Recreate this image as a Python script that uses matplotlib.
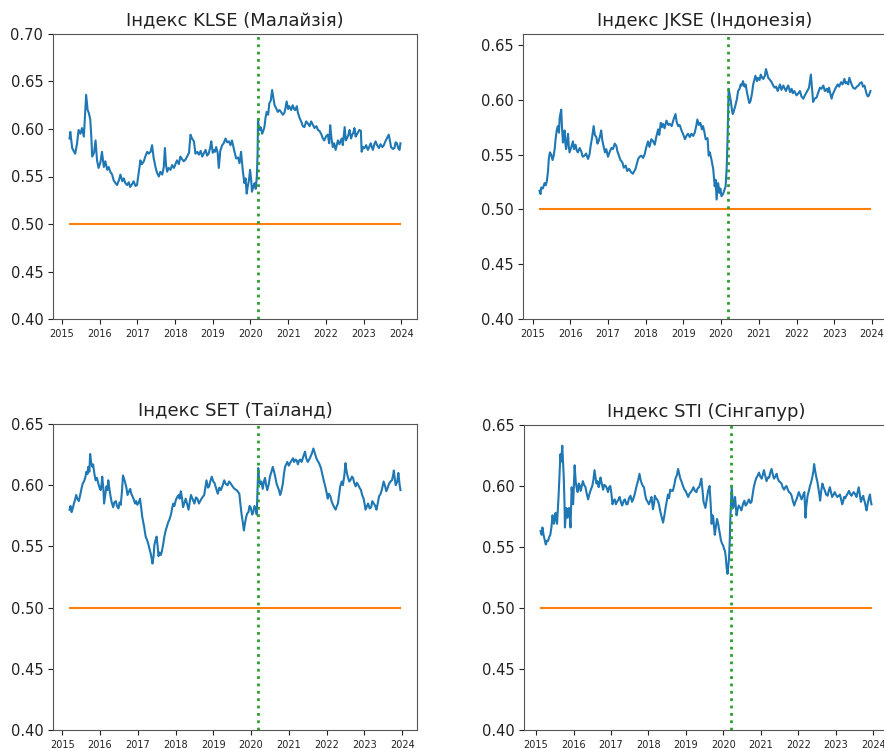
import matplotlib
matplotlib.use("Agg")
import matplotlib.pyplot as plt
from matplotlib.ticker import FormatStrFormatter, MultipleLocator

# ---- Hurst exponent estimates (rolling window), decimal-year time axis ----
klse_years = [
    2015.20, 2015.22, 2015.27, 2015.32, 2015.35, 2015.40, 2015.44, 2015.49, 2015.53, 2015.58,
    2015.64, 2015.68, 2015.71, 2015.75, 2015.78, 2015.80, 2015.85, 2015.89, 2015.93, 2015.97,
    2016.02, 2016.06, 2016.11, 2016.15, 2016.20, 2016.24, 2016.28, 2016.33, 2016.37, 2016.42,
    2016.46, 2016.51, 2016.55, 2016.60, 2016.64, 2016.68, 2016.73, 2016.77, 2016.81, 2016.86,
    2016.90, 2016.95, 2016.99, 2017.04, 2017.08, 2017.12, 2017.17, 2017.21, 2017.26, 2017.30,
    2017.35, 2017.39, 2017.43, 2017.48, 2017.52, 2017.57, 2017.61, 2017.66, 2017.70, 2017.73,
    2017.76, 2017.79, 2017.83, 2017.88, 2017.92, 2017.97, 2018.01, 2018.05, 2018.10, 2018.14,
    2018.19, 2018.23, 2018.28, 2018.32, 2018.37, 2018.41, 2018.45, 2018.50, 2018.54, 2018.59,
    2018.63, 2018.68, 2018.72, 2018.77, 2018.81, 2018.85, 2018.89, 2018.93, 2018.96, 2019.00,
    2019.03, 2019.06, 2019.09, 2019.13, 2019.16, 2019.20, 2019.25, 2019.29, 2019.34, 2019.38,
    2019.43, 2019.47, 2019.51, 2019.56, 2019.62, 2019.67, 2019.71, 2019.75, 2019.80, 2019.84,
    2019.87, 2019.90, 2019.93, 2019.96, 2019.99, 2020.02, 2020.04, 2020.08, 2020.11, 2020.14,
    2020.17, 2020.19, 2020.20, 2020.22, 2020.24, 2020.27, 2020.31, 2020.34, 2020.37, 2020.40,
    2020.43, 2020.47, 2020.50, 2020.54, 2020.575, 2020.61, 2020.64, 2020.68, 2020.725, 2020.77,
    2020.81, 2020.86, 2020.90, 2020.93, 2020.96, 2021.00, 2021.03, 2021.08, 2021.12, 2021.16,
    2021.19, 2021.23, 2021.26, 2021.30, 2021.345, 2021.39, 2021.43, 2021.48, 2021.52, 2021.57,
    2021.61, 2021.66, 2021.70, 2021.75, 2021.79, 2021.83, 2021.875, 2021.92, 2021.96, 2022.00,
    2022.05, 2022.09, 2022.115, 2022.15, 2022.185, 2022.22, 2022.26, 2022.29, 2022.32, 2022.36,
    2022.39, 2022.42, 2022.45, 2022.50, 2022.53, 2022.56, 2022.60, 2022.63, 2022.67, 2022.70,
    2022.73, 2022.76, 2022.79, 2022.82, 2022.86, 2022.89, 2022.93, 2022.95, 2022.99, 2023.03,
    2023.07, 2023.115, 2023.15, 2023.19, 2023.22, 2023.25, 2023.28, 2023.32, 2023.36, 2023.41,
    2023.45, 2023.50, 2023.54, 2023.58, 2023.62, 2023.67, 2023.70, 2023.73, 2023.78, 2023.82,
    2023.85, 2023.885, 2023.92, 2023.955, 2023.98,
]
klse_hurst = [
    0.590, 0.597, 0.580, 0.576, 0.574, 0.585, 0.599, 0.595, 0.601, 0.592,
    0.636, 0.620, 0.617, 0.610, 0.590, 0.571, 0.575, 0.588, 0.567, 0.559,
    0.565, 0.576, 0.560, 0.566, 0.557, 0.560, 0.555, 0.552, 0.546, 0.543,
    0.541, 0.546, 0.552, 0.545, 0.548, 0.543, 0.541, 0.544, 0.539, 0.542,
    0.545, 0.540, 0.541, 0.555, 0.567, 0.563, 0.566, 0.571, 0.576, 0.574,
    0.576, 0.583, 0.570, 0.560, 0.554, 0.550, 0.555, 0.552, 0.560, 0.580,
    0.562, 0.555, 0.559, 0.557, 0.562, 0.559, 0.563, 0.567, 0.563, 0.571,
    0.568, 0.566, 0.568, 0.571, 0.575, 0.594, 0.590, 0.587, 0.574, 0.576,
    0.573, 0.577, 0.571, 0.575, 0.578, 0.572, 0.574, 0.580, 0.587, 0.575,
    0.578, 0.576, 0.581, 0.575, 0.559, 0.577, 0.583, 0.585, 0.590, 0.586,
    0.587, 0.583, 0.588, 0.579, 0.569, 0.570, 0.564, 0.576, 0.555, 0.543,
    0.548, 0.532, 0.540, 0.546, 0.557, 0.546, 0.534, 0.540, 0.543, 0.537,
    0.550, 0.575, 0.610, 0.603, 0.599, 0.602, 0.595, 0.598, 0.602, 0.612,
    0.618, 0.615, 0.627, 0.630, 0.641, 0.632, 0.625, 0.622, 0.618, 0.620,
    0.618, 0.615, 0.617, 0.622, 0.629, 0.621, 0.624, 0.620, 0.625, 0.621,
    0.620, 0.624, 0.617, 0.612, 0.608, 0.603, 0.602, 0.608, 0.606, 0.603,
    0.608, 0.604, 0.601, 0.603, 0.599, 0.598, 0.595, 0.590, 0.588, 0.592,
    0.594, 0.585, 0.604, 0.590, 0.581, 0.585, 0.578, 0.583, 0.588, 0.584,
    0.587, 0.590, 0.583, 0.602, 0.588, 0.590, 0.594, 0.599, 0.590, 0.594,
    0.596, 0.601, 0.592, 0.594, 0.597, 0.599, 0.598, 0.576, 0.581, 0.580,
    0.583, 0.578, 0.581, 0.585, 0.581, 0.578, 0.583, 0.587, 0.583, 0.580,
    0.584, 0.581, 0.583, 0.587, 0.590, 0.594, 0.588, 0.581, 0.579, 0.580,
    0.586, 0.585, 0.580, 0.578, 0.585,
]

jkse_years = [
    2015.185, 2015.21, 2015.23, 2015.27, 2015.32, 2015.35, 2015.38, 2015.41, 2015.43, 2015.46,
    2015.495, 2015.53, 2015.56, 2015.59, 2015.61, 2015.64, 2015.67, 2015.70, 2015.72, 2015.76,
    2015.78, 2015.805, 2015.83, 2015.85, 2015.87, 2015.89, 2015.92, 2015.94, 2015.96, 2015.98,
    2016.03, 2016.07, 2016.10, 2016.14, 2016.17, 2016.20, 2016.25, 2016.29, 2016.33, 2016.38,
    2016.42, 2016.47, 2016.51, 2016.54, 2016.58, 2016.62, 2016.65, 2016.69, 2016.72, 2016.75,
    2016.79, 2016.82, 2016.85, 2016.88, 2016.92, 2016.955, 2017.00, 2017.04, 2017.09, 2017.13,
    2017.18, 2017.22, 2017.25, 2017.29, 2017.33, 2017.38, 2017.42, 2017.47, 2017.51, 2017.56,
    2017.61, 2017.66, 2017.70, 2017.73, 2017.77, 2017.80, 2017.84, 2017.885, 2017.93, 2017.97,
    2018.01, 2018.06, 2018.10, 2018.15, 2018.20, 2018.24, 2018.28, 2018.33, 2018.36, 2018.40,
    2018.43, 2018.46, 2018.50, 2018.55, 2018.60, 2018.64, 2018.69, 2018.73, 2018.79, 2018.82,
    2018.86, 2018.90, 2018.95, 2019.00, 2019.04, 2019.08, 2019.12, 2019.17, 2019.21, 2019.26,
    2019.30, 2019.34, 2019.37, 2019.41, 2019.45, 2019.49, 2019.52, 2019.56, 2019.59, 2019.64,
    2019.67, 2019.70, 2019.74, 2019.79, 2019.83, 2019.855, 2019.88, 2019.90, 2019.92, 2019.96,
    2019.98, 2020.01, 2020.05, 2020.08, 2020.12, 2020.15, 2020.17, 2020.20, 2020.23, 2020.26,
    2020.29, 2020.31, 2020.34, 2020.38, 2020.42, 2020.45, 2020.49, 2020.52, 2020.55, 2020.58,
    2020.62, 2020.65, 2020.69, 2020.72, 2020.75, 2020.78, 2020.82, 2020.85, 2020.88, 2020.91,
    2020.95, 2020.98, 2021.02, 2021.05, 2021.09, 2021.12, 2021.16, 2021.19, 2021.25, 2021.30,
    2021.34, 2021.38, 2021.42, 2021.46, 2021.50, 2021.53, 2021.56, 2021.60, 2021.65, 2021.69,
    2021.72, 2021.75, 2021.78, 2021.83, 2021.87, 2021.90, 2021.94, 2021.97, 2022.00, 2022.05,
    2022.09, 2022.13, 2022.18, 2022.22, 2022.27, 2022.30, 2022.33, 2022.38, 2022.41, 2022.44,
    2022.48, 2022.53, 2022.57, 2022.62, 2022.66, 2022.71, 2022.75, 2022.80, 2022.83, 2022.86,
    2022.90, 2022.93, 2022.96, 2023.00, 2023.04, 2023.09, 2023.13, 2023.18, 2023.22, 2023.27,
    2023.30, 2023.33, 2023.37, 2023.40, 2023.43, 2023.46, 2023.50, 2023.55, 2023.60, 2023.64,
    2023.68, 2023.73, 2023.76, 2023.80, 2023.83, 2023.86, 2023.89, 2023.92, 2023.96,
]
jkse_hurst = [
    0.517, 0.514, 0.520, 0.519, 0.524, 0.522, 0.526, 0.535, 0.546, 0.552,
    0.550, 0.545, 0.549, 0.556, 0.564, 0.572, 0.576, 0.570, 0.584, 0.591,
    0.575, 0.561, 0.568, 0.572, 0.560, 0.555, 0.563, 0.569, 0.558, 0.552,
    0.557, 0.562, 0.555, 0.559, 0.554, 0.552, 0.556, 0.553, 0.548, 0.549,
    0.551, 0.546, 0.550, 0.558, 0.566, 0.576, 0.568, 0.566, 0.560, 0.562,
    0.567, 0.572, 0.563, 0.558, 0.552, 0.555, 0.548, 0.552, 0.556, 0.555,
    0.560, 0.558, 0.553, 0.549, 0.545, 0.543, 0.538, 0.540, 0.535, 0.537,
    0.534, 0.5325, 0.535, 0.537, 0.542, 0.546, 0.548, 0.549, 0.547, 0.550,
    0.556, 0.562, 0.557, 0.564, 0.562, 0.559, 0.566, 0.573, 0.568, 0.579,
    0.575, 0.578, 0.574, 0.581, 0.577, 0.578, 0.576, 0.581, 0.587, 0.580,
    0.576, 0.577, 0.572, 0.568, 0.564, 0.567, 0.569, 0.566, 0.569, 0.567,
    0.570, 0.576, 0.582, 0.577, 0.579, 0.573, 0.576, 0.570, 0.564, 0.565,
    0.549, 0.552, 0.546, 0.537, 0.521, 0.527, 0.509, 0.516, 0.524, 0.515,
    0.519, 0.512, 0.514, 0.517, 0.521, 0.540, 0.564, 0.610, 0.604, 0.598,
    0.590, 0.587, 0.590, 0.595, 0.601, 0.608, 0.610, 0.614, 0.613, 0.617,
    0.612, 0.614, 0.606, 0.601, 0.597, 0.599, 0.606, 0.614, 0.618, 0.622,
    0.617, 0.620, 0.618, 0.623, 0.620, 0.619, 0.622, 0.628, 0.620, 0.618,
    0.616, 0.613, 0.611, 0.612, 0.608, 0.611, 0.614, 0.609, 0.613, 0.610,
    0.608, 0.611, 0.613, 0.607, 0.610, 0.606, 0.608, 0.606, 0.604, 0.606,
    0.608, 0.603, 0.601, 0.604, 0.607, 0.609, 0.611, 0.623, 0.610, 0.598,
    0.601, 0.602, 0.606, 0.611, 0.610, 0.613, 0.608, 0.610, 0.607, 0.611,
    0.605, 0.601, 0.605, 0.608, 0.611, 0.614, 0.612, 0.616, 0.614, 0.619,
    0.615, 0.616, 0.614, 0.620, 0.617, 0.614, 0.611, 0.610, 0.612, 0.613,
    0.615, 0.616, 0.612, 0.613, 0.609, 0.605, 0.603, 0.604, 0.608,
]

set_years = [
    2015.195, 2015.22, 2015.25, 2015.28, 2015.31, 2015.34, 2015.37, 2015.40, 2015.44, 2015.47,
    2015.51, 2015.54, 2015.575, 2015.61, 2015.64, 2015.67, 2015.69, 2015.72, 2015.74, 2015.77,
    2015.80, 2015.82, 2015.84, 2015.86, 2015.885, 2015.92, 2015.96, 2015.99, 2016.02, 2016.04,
    2016.06, 2016.09, 2016.11, 2016.14, 2016.17, 2016.20, 2016.22, 2016.25, 2016.28, 2016.31,
    2016.35, 2016.38, 2016.42, 2016.45, 2016.49, 2016.52, 2016.55, 2016.58, 2016.61, 2016.64,
    2016.66, 2016.70, 2016.73, 2016.77, 2016.80, 2016.83, 2016.86, 2016.90, 2016.93, 2016.96,
    2016.99, 2017.03, 2017.06, 2017.09, 2017.12, 2017.17, 2017.21, 2017.25, 2017.28, 2017.31,
    2017.345, 2017.37, 2017.39, 2017.42, 2017.44, 2017.47, 2017.50, 2017.53, 2017.55, 2017.58,
    2017.61, 2017.64, 2017.67, 2017.70, 2017.74, 2017.77, 2017.81, 2017.84, 2017.88, 2017.91,
    2017.94, 2017.97, 2018.01, 2018.04, 2018.08, 2018.11, 2018.14, 2018.17, 2018.20, 2018.24,
    2018.27, 2018.31, 2018.345, 2018.38, 2018.41, 2018.46, 2018.50, 2018.54, 2018.58, 2018.62,
    2018.67, 2018.71, 2018.76, 2018.79, 2018.82, 2018.86, 2018.89, 2018.92, 2018.96, 2019.00,
    2019.03, 2019.08, 2019.12, 2019.16, 2019.20, 2019.25, 2019.29, 2019.33, 2019.38, 2019.42,
    2019.47, 2019.51, 2019.56, 2019.62, 2019.69, 2019.72, 2019.75, 2019.78, 2019.81, 2019.84,
    2019.87, 2019.90, 2019.93, 2019.96, 2019.99, 2020.03, 2020.06, 2020.09, 2020.13, 2020.15,
    2020.17, 2020.19, 2020.21, 2020.24, 2020.27, 2020.31, 2020.34, 2020.37, 2020.40, 2020.43,
    2020.47, 2020.50, 2020.54, 2020.575, 2020.61, 2020.64, 2020.67, 2020.70, 2020.74, 2020.77,
    2020.80, 2020.84, 2020.87, 2020.90, 2020.93, 2020.96, 2021.00, 2021.03, 2021.07, 2021.11,
    2021.14, 2021.18, 2021.21, 2021.24, 2021.27, 2021.30, 2021.34, 2021.37, 2021.40, 2021.43,
    2021.46, 2021.50, 2021.54, 2021.57, 2021.61, 2021.65, 2021.69, 2021.73, 2021.76, 2021.80,
    2021.85, 2021.90, 2021.93, 2021.965, 2022.00, 2022.03, 2022.06, 2022.10, 2022.13, 2022.17,
    2022.20, 2022.24, 2022.27, 2022.30, 2022.33, 2022.36, 2022.40, 2022.43, 2022.47, 2022.50,
    2022.53, 2022.56, 2022.60, 2022.63, 2022.67, 2022.70, 2022.73, 2022.77, 2022.80, 2022.84,
    2022.87, 2022.91, 2022.94, 2022.98, 2023.01, 2023.03, 2023.07, 2023.10, 2023.14, 2023.18,
    2023.21, 2023.25, 2023.29, 2023.32, 2023.36, 2023.39, 2023.43, 2023.46, 2023.49, 2023.51,
    2023.55, 2023.58, 2023.62, 2023.65, 2023.69, 2023.73, 2023.76, 2023.78, 2023.81, 2023.83,
    2023.87, 2023.90, 2023.93, 2023.955,
]
set_hurst = [
    0.580, 0.583, 0.578, 0.581, 0.585, 0.588, 0.592, 0.589, 0.587, 0.591,
    0.597, 0.601, 0.603, 0.606, 0.611, 0.609, 0.615, 0.611, 0.6255, 0.618,
    0.615, 0.617, 0.612, 0.608, 0.604, 0.606, 0.601, 0.598, 0.596, 0.600,
    0.607, 0.597, 0.585, 0.592, 0.599, 0.596, 0.604, 0.597, 0.591, 0.586,
    0.582, 0.586, 0.587, 0.583, 0.581, 0.586, 0.584, 0.594, 0.608, 0.605,
    0.603, 0.598, 0.592, 0.595, 0.597, 0.593, 0.591, 0.588, 0.585, 0.587,
    0.584, 0.586, 0.589, 0.582, 0.574, 0.566, 0.558, 0.555, 0.552, 0.548,
    0.544, 0.540, 0.536, 0.542, 0.551, 0.555, 0.558, 0.549, 0.542, 0.545,
    0.543, 0.546, 0.551, 0.557, 0.563, 0.566, 0.570, 0.572, 0.576, 0.581,
    0.585, 0.583, 0.588, 0.590, 0.592, 0.589, 0.595, 0.590, 0.582, 0.586,
    0.589, 0.584, 0.580, 0.587, 0.592, 0.588, 0.585, 0.590, 0.589, 0.585,
    0.588, 0.590, 0.592, 0.598, 0.604, 0.598, 0.599, 0.603, 0.607, 0.603,
    0.602, 0.597, 0.593, 0.598, 0.596, 0.600, 0.604, 0.601, 0.600, 0.603,
    0.601, 0.599, 0.597, 0.596, 0.593, 0.584, 0.576, 0.570, 0.563, 0.569,
    0.574, 0.577, 0.578, 0.583, 0.582, 0.576, 0.578, 0.583, 0.580, 0.576,
    0.596, 0.614, 0.606, 0.601, 0.603, 0.597, 0.603, 0.606, 0.600, 0.596,
    0.601, 0.607, 0.611, 0.615, 0.611, 0.607, 0.602, 0.599, 0.596, 0.592,
    0.595, 0.601, 0.609, 0.615, 0.617, 0.619, 0.616, 0.618, 0.620, 0.622,
    0.619, 0.621, 0.620, 0.617, 0.620, 0.621, 0.619, 0.622, 0.625, 0.6274,
    0.622, 0.619, 0.621, 0.623, 0.626, 0.630, 0.626, 0.622, 0.620, 0.618,
    0.614, 0.607, 0.603, 0.599, 0.594, 0.589, 0.593, 0.591, 0.587, 0.584,
    0.582, 0.580, 0.583, 0.585, 0.592, 0.599, 0.603, 0.600, 0.608, 0.618,
    0.611, 0.607, 0.603, 0.604, 0.607, 0.606, 0.602, 0.599, 0.602, 0.600,
    0.598, 0.596, 0.592, 0.589, 0.584, 0.580, 0.583, 0.585, 0.581, 0.582,
    0.587, 0.585, 0.583, 0.580, 0.586, 0.591, 0.593, 0.596, 0.600, 0.603,
    0.599, 0.595, 0.598, 0.601, 0.603, 0.604, 0.608, 0.612, 0.604, 0.600,
    0.603, 0.610, 0.601, 0.596,
]

sti_years = [
    2015.12, 2015.15, 2015.17, 2015.20, 2015.23, 2015.26, 2015.29, 2015.32, 2015.35, 2015.38,
    2015.41, 2015.44, 2015.46, 2015.48, 2015.50, 2015.52, 2015.54, 2015.56, 2015.58, 2015.60,
    2015.63, 2015.65, 2015.67, 2015.70, 2015.72, 2015.74, 2015.76, 2015.77, 2015.79, 2015.81,
    2015.84, 2015.86, 2015.88, 2015.90, 2015.92, 2015.95, 2015.97, 2015.99, 2016.01, 2016.03,
    2016.06, 2016.08, 2016.11, 2016.14, 2016.17, 2016.19, 2016.22, 2016.25, 2016.28, 2016.32,
    2016.35, 2016.39, 2016.42, 2016.45, 2016.50, 2016.53, 2016.56, 2016.59, 2016.61, 2016.64,
    2016.67, 2016.70, 2016.72, 2016.76, 2016.79, 2016.82, 2016.86, 2016.89, 2016.92, 2016.95,
    2016.98, 2017.01, 2017.04, 2017.07, 2017.10, 2017.13, 2017.16, 2017.20, 2017.23, 2017.27,
    2017.30, 2017.34, 2017.37, 2017.41, 2017.44, 2017.48, 2017.52, 2017.56, 2017.59, 2017.63,
    2017.66, 2017.69, 2017.72, 2017.76, 2017.79, 2017.82, 2017.85, 2017.88, 2017.91, 2017.94,
    2017.98, 2018.01, 2018.05, 2018.08, 2018.12, 2018.15, 2018.17, 2018.20, 2018.23, 2018.26,
    2018.28, 2018.31, 2018.34, 2018.39, 2018.42, 2018.45, 2018.49, 2018.52, 2018.55, 2018.58,
    2018.62, 2018.65, 2018.69, 2018.72, 2018.76, 2018.79, 2018.82, 2018.85, 2018.89, 2018.92,
    2018.96, 2018.99, 2019.03, 2019.06, 2019.10, 2019.13, 2019.17, 2019.20, 2019.24, 2019.28,
    2019.31, 2019.35, 2019.38, 2019.41, 2019.44, 2019.47, 2019.52, 2019.56, 2019.59, 2019.63,
    2019.66, 2019.685, 2019.71, 2019.73, 2019.75, 2019.77, 2019.80, 2019.83, 2019.86, 2019.88,
    2019.91, 2019.93, 2019.96, 2019.996, 2020.02, 2020.04, 2020.065, 2020.085, 2020.11, 2020.13,
    2020.15, 2020.17, 2020.18, 2020.20, 2020.22, 2020.24, 2020.26, 2020.29, 2020.31, 2020.33,
    2020.35, 2020.38, 2020.41, 2020.45, 2020.48, 2020.52, 2020.56, 2020.59, 2020.62, 2020.65,
    2020.68, 2020.72, 2020.75, 2020.78, 2020.81, 2020.85, 2020.885, 2020.92, 2020.95, 2020.98,
    2021.02, 2021.05, 2021.08, 2021.12, 2021.15, 2021.19, 2021.22, 2021.25, 2021.285, 2021.32,
    2021.35, 2021.39, 2021.42, 2021.45, 2021.48, 2021.52, 2021.55, 2021.58, 2021.62, 2021.65,
    2021.68, 2021.72, 2021.75, 2021.79, 2021.82, 2021.85, 2021.89, 2021.92, 2021.95, 2021.98,
    2022.01, 2022.05, 2022.085, 2022.12, 2022.16, 2022.175, 2022.19, 2022.21, 2022.245, 2022.28,
    2022.31, 2022.34, 2022.37, 2022.40, 2022.42, 2022.45, 2022.48, 2022.51, 2022.53, 2022.56,
    2022.58, 2022.61, 2022.64, 2022.67, 2022.71, 2022.74, 2022.78, 2022.81, 2022.84, 2022.87,
    2022.90, 2022.94, 2022.97, 2023.00, 2023.04, 2023.08, 2023.11, 2023.14, 2023.17, 2023.20,
    2023.22, 2023.25, 2023.28, 2023.32, 2023.35, 2023.39, 2023.42, 2023.45, 2023.48, 2023.52,
    2023.55, 2023.58, 2023.61, 2023.64, 2023.67, 2023.70, 2023.73, 2023.75, 2023.77, 2023.80,
    2023.82, 2023.84, 2023.86, 2023.88, 2023.91, 2023.93, 2023.95,
]
sti_hurst = [
    0.563, 0.560, 0.566, 0.560, 0.556, 0.552, 0.555, 0.555, 0.558, 0.560,
    0.566, 0.576, 0.571, 0.569, 0.573, 0.578, 0.574, 0.569, 0.580, 0.591,
    0.612, 0.626, 0.620, 0.633, 0.620, 0.607, 0.585, 0.566, 0.575, 0.582,
    0.574, 0.578, 0.582, 0.575, 0.566, 0.599, 0.592, 0.585, 0.600, 0.617,
    0.603, 0.599, 0.595, 0.602, 0.600, 0.596, 0.600, 0.604, 0.601, 0.599,
    0.594, 0.589, 0.593, 0.596, 0.600, 0.605, 0.613, 0.606, 0.602, 0.604,
    0.599, 0.603, 0.607, 0.601, 0.597, 0.601, 0.600, 0.598, 0.595, 0.599,
    0.600, 0.594, 0.585, 0.588, 0.589, 0.585, 0.587, 0.589, 0.591, 0.586,
    0.584, 0.588, 0.589, 0.585, 0.585, 0.590, 0.592, 0.587, 0.589, 0.593,
    0.597, 0.601, 0.604, 0.610, 0.605, 0.602, 0.600, 0.599, 0.593, 0.589,
    0.587, 0.585, 0.588, 0.591, 0.581, 0.586, 0.592, 0.590, 0.589, 0.587,
    0.585, 0.580, 0.576, 0.570, 0.575, 0.581, 0.588, 0.593, 0.590, 0.597,
    0.596, 0.596, 0.601, 0.606, 0.609, 0.614, 0.610, 0.606, 0.603, 0.600,
    0.597, 0.596, 0.593, 0.591, 0.594, 0.595, 0.597, 0.599, 0.596, 0.595,
    0.598, 0.599, 0.602, 0.606, 0.597, 0.587, 0.582, 0.590, 0.596, 0.600,
    0.585, 0.569, 0.576, 0.574, 0.566, 0.560, 0.567, 0.573, 0.569, 0.565,
    0.560, 0.556, 0.553, 0.551, 0.548, 0.547, 0.541, 0.533, 0.528, 0.535,
    0.541, 0.556, 0.570, 0.585, 0.599, 0.590, 0.582, 0.586, 0.591, 0.583,
    0.576, 0.581, 0.584, 0.582, 0.580, 0.585, 0.588, 0.584, 0.585, 0.587,
    0.589, 0.586, 0.587, 0.593, 0.599, 0.604, 0.607, 0.609, 0.611, 0.608,
    0.606, 0.609, 0.613, 0.608, 0.604, 0.607, 0.607, 0.611, 0.614, 0.609,
    0.606, 0.608, 0.610, 0.606, 0.604, 0.603, 0.602, 0.599, 0.597, 0.599,
    0.600, 0.597, 0.595, 0.594, 0.592, 0.588, 0.584, 0.587, 0.589, 0.592,
    0.595, 0.592, 0.589, 0.592, 0.595, 0.585, 0.574, 0.583, 0.592, 0.596,
    0.600, 0.603, 0.607, 0.612, 0.618, 0.612, 0.607, 0.603, 0.599, 0.593,
    0.588, 0.596, 0.602, 0.599, 0.596, 0.593, 0.592, 0.596, 0.599, 0.595,
    0.591, 0.593, 0.595, 0.593, 0.591, 0.592, 0.593, 0.589, 0.585, 0.588,
    0.591, 0.590, 0.592, 0.594, 0.596, 0.593, 0.592, 0.594, 0.595, 0.593,
    0.591, 0.595, 0.599, 0.593, 0.587, 0.590, 0.592, 0.589, 0.587, 0.583,
    0.580, 0.584, 0.587, 0.590, 0.593, 0.588, 0.585,
]

titles = ["Індекс KLSE (Малайзія)", "Індекс JKSE (Індонезія)",
          "Індекс SET (Таїланд)", "Індекс STI (Сінгапур)"]
series_years = [klse_years, jkse_years, set_years, sti_years]
series_hurst = [klse_hurst, jkse_hurst, set_hurst, sti_hurst]
y_limits = [(0.40, 0.70), (0.40, 0.66), (0.40, 0.65), (0.40, 0.65)]
random_walk_level = 0.5          # H = 0.5 reference
covid_date = 2020.19             # 11 March 2020
year_ticks = list(range(2015, 2025))

# ---- layout in pixels (left, top, width, height) ----
W, H = 884, 749
fig = plt.figure(figsize=(W / 100, H / 100), dpi=100)
boxes = [(53, 34, 364, 285), (523, 34, 364, 285),
         (53, 424, 364, 306), (524, 425, 364, 305)]

for box, title, xs, ys, ylim in zip(boxes, titles, series_years, series_hurst, y_limits):
    l, t, w, h = box
    ax = fig.add_axes([l / W, 1 - (t + h) / H, w / W, h / H])
    ax.plot(xs, ys, color="#1f77b4", lw=1.5)
    ax.plot([xs[0], xs[-1]], [random_walk_level, random_walk_level],
            color="#ff7f0e", lw=1.5)
    ax.axvline(covid_date, color="#2ca02c", ls=":", lw=2)
    ax.set_ylim(*ylim)
    ax.yaxis.set_major_locator(MultipleLocator(0.05))
    ax.yaxis.set_major_formatter(FormatStrFormatter("%.2f"))
    ax.set_xticks(year_ticks)
    ax.set_xticklabels([str(y) for y in year_ticks])
    ax.tick_params(axis="y", labelsize=10.5, colors="#222222")
    ax.tick_params(axis="x", labelsize=7, colors="#222222")
    ax.set_title(title, fontsize=13, color="#222222")
    for s in ax.spines.values():
        s.set_color("#555555")

fig.savefig("out.png", dpi=100)
